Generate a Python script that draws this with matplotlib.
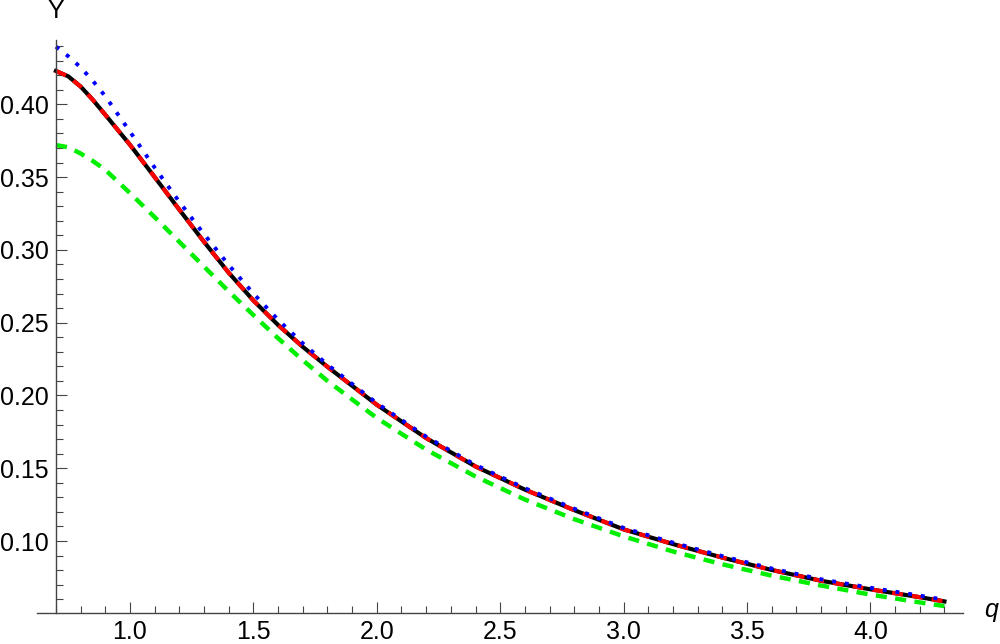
import matplotlib
matplotlib.use("Agg")
import matplotlib.pyplot as plt
from matplotlib.ticker import MultipleLocator, FormatStrFormatter

plt.rcParams['font.family'] = ['Liberation Sans', 'DejaVu Sans']

# values
q = [0.7, 0.75, 0.8, 0.85, 0.9, 1.0, 1.1, 1.2, 1.3, 1.4, 1.5, 1.6, 1.7, 1.8, 2.0,
     2.2, 2.4, 2.6, 2.8, 3.0, 3.2, 3.4, 3.6, 3.8, 4.0, 4.2, 4.3]

y_black = [0.4229, 0.4192, 0.4122, 0.4030, 0.3928, 0.3722, 0.3500, 0.3276, 0.3055,
           0.2843, 0.2652, 0.2484, 0.2334, 0.2197, 0.1936, 0.1707, 0.1512, 0.1353,
           0.1212, 0.1080, 0.0979, 0.0886, 0.0801, 0.0727, 0.0668, 0.0614, 0.0585]
y_red = [0.4229, 0.4192, 0.4122, 0.4030, 0.3928, 0.3722, 0.3500, 0.3276, 0.3055,
         0.2843, 0.2652, 0.2484, 0.2334, 0.2197, 0.1936, 0.1707, 0.1512, 0.1353,
         0.1212, 0.1080, 0.0979, 0.0886, 0.0801, 0.0727, 0.0668, 0.0614, 0.0585]
y_blue = [0.4396, 0.4330, 0.4254, 0.4160, 0.4055, 0.3812, 0.3565, 0.3330, 0.3108,
          0.2896, 0.2700, 0.2520, 0.2358, 0.2212, 0.1947, 0.1717, 0.1522, 0.1363,
          0.1222, 0.1090, 0.0989, 0.0896, 0.0811, 0.0737, 0.0679, 0.0625, 0.0596]
y_green = [0.3720, 0.3705, 0.3662, 0.3610, 0.3550, 0.3390, 0.3225, 0.3055, 0.2885,
           0.2715, 0.2552, 0.2393, 0.2242, 0.2100, 0.1845, 0.1628, 0.1443, 0.1285,
           0.1150, 0.1032, 0.0928, 0.0840, 0.0762, 0.0694, 0.0632, 0.0578, 0.0553]

fig = plt.figure(figsize=(10, 6.44), dpi=100)
ax = fig.add_axes([0.037, 0.0486, 0.926, 0.8893])

# curves: black solid under red dashes, blue dots on top
ax.plot(q, y_green, color='#00ee00', lw=3.2, dashes=(2.5, 1.9))
ax.plot(q, y_black, color='black', lw=3.0, solid_joinstyle='round')
ax.plot(q, y_red, color='#ff0000', lw=3.0, dashes=(2.6, 2.2))
ax.plot(q, y_blue, color='#0000ff', lw=2.8, dashes=(1.0, 2.3))

ax.set_xlim(0.6232, 4.3752)
ax.set_ylim(0.05074, 0.4442)

# mathematica-like axes
for s in ['top', 'right']:
    ax.spines[s].set_visible(False)
ax.spines['left'].set_position(('data', 0.7))
ax.spines['left'].set_color('#444444')
ax.spines['bottom'].set_color('#444444')
ax.spines['left'].set_linewidth(1.0)
ax.spines['bottom'].set_linewidth(1.0)

ax.xaxis.set_major_locator(MultipleLocator(0.5))
ax.xaxis.set_minor_locator(MultipleLocator(0.1))
ax.yaxis.set_major_locator(MultipleLocator(0.05))
ax.yaxis.set_minor_locator(MultipleLocator(0.01))
ax.xaxis.set_major_formatter(FormatStrFormatter('%.1f'))
ax.yaxis.set_major_formatter(FormatStrFormatter('%.2f'))

ax.tick_params(which='major', direction='in', length=7.8, width=0.8, color='#444444',
               labelsize=18, labelcolor='black')
ax.tick_params(which='minor', direction='in', length=5.0, width=0.8, color='#444444')
ax.tick_params(axis='x', which='major', pad=5)
ax.tick_params(axis='y', which='major', pad=5)

fig.text(0.056, 0.972, 'Y', fontsize=18, ha='center', va='baseline', color='black')
fig.text(0.984, 1 - 617 / 644, 'q', fontsize=18, style='italic', ha='left',
         va='baseline', color='black')

fig.savefig('out.png', dpi=100)
